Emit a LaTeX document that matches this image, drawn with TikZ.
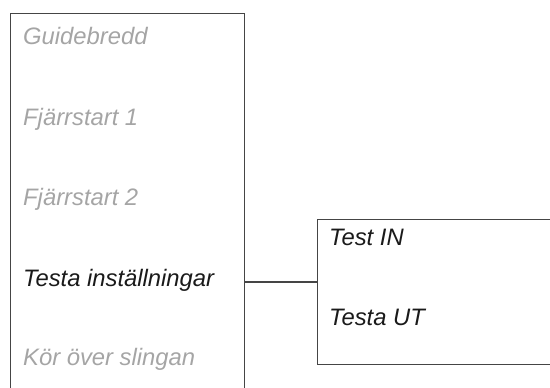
\documentclass[tikz,border=0pt]{standalone}
\usepackage{fontspec}
\setmainfont{Liberation Sans}
\usepackage{tikz}
\usetikzlibrary{positioning}

\definecolor{framegray}{HTML}{454545}
\definecolor{dimgray}{HTML}{A5A5A5}
\definecolor{activeblack}{HTML}{1A1A1A}

\tikzset{
  menubox/.style={draw=framegray, line width=1.2pt, inner sep=0pt, anchor=north west},
  item/.style={anchor=base west, inner sep=0pt, font=\fontsize{23.8}{28}\selectfont\itshape, text=dimgray},
  active/.style={item, text=activeblack}
}

\begin{document}
\begin{tikzpicture}[x=1pt, y=-1pt]
		\useasboundingbox (0,0) rectangle (550,388);
		\clip (0,0) rectangle (550,388);

		\node[menubox, minimum width=234pt, minimum height=400pt] (menu) at (10,12.5) {};
		\node[menubox, minimum width=250pt, minimum height=145pt] (submenu) at (317,219) {};

		\node[item]   (guide)  at (23,45)  {Guidebredd};
		\node[item]   (fjarr1) at (23,125) {Fjärrstart 1};
		\node[item]   (fjarr2) at (23,205) {Fjärrstart 2};
		\node[active] (testa)  at (23,286) {Testa inställningar};
		\node[item]   (kor)    at (23,365) {Kör över slingan};

		\node[active] (testin)  at (329,245) {Test IN};
		\node[active] (testut)  at (329,325) {Testa UT};

		\coordinate (link) at (0,282);
		\draw[framegray, line width=1.2pt] (menu.east |- link) -- (submenu.west |- link);
	\end{tikzpicture}
\end{document}
